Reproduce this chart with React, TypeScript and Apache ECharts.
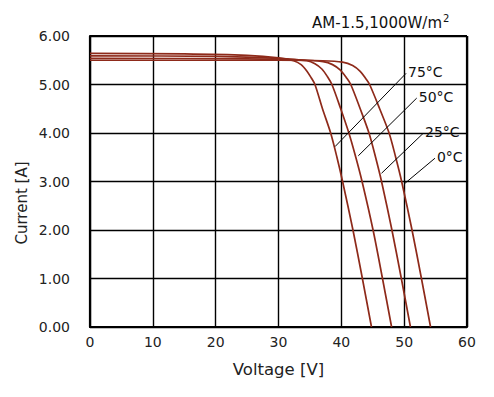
import React, { useEffect, useRef } from "react";
import * as echarts from "echarts";

const xTicks = [0, 10, 20, 30, 40, 50, 60];
const yTicks = [0, 1, 2, 3, 4, 5, 6];

const curve75: [number, number][] = [
  [0, 5.64], [15, 5.63], [25, 5.6], [30, 5.55], [32.4, 5.49], [33.6, 5.41], [34.5, 5.28],
  [35.2, 5.14], [35.8, 5.0], [37.0, 4.5], [38.3, 4.0], [39.3, 3.5], [40.2, 3.0], [41.85, 2.0],
  [43.35, 1.0], [44.8, 0],
];
const curve50: [number, number][] = [
  [0, 5.59], [20, 5.58], [30, 5.54], [34.5, 5.49], [35.8, 5.43], [36.9, 5.32], [37.8, 5.16],
  [38.5, 5.0], [39.9, 4.5], [41.2, 4.0], [42.3, 3.5], [43.3, 3.0], [45.05, 2.0], [46.55, 1.0], [48.0, 0],
];
const curve25: [number, number][] = [
  [0, 5.54], [25, 5.53], [33, 5.51], [37.1, 5.47], [38.6, 5.41], [39.8, 5.3], [40.8, 5.14],
  [41.5, 5.0], [43.0, 4.5], [44.4, 4.0], [45.45, 3.5], [46.4, 3.0], [48.05, 2.0], [49.55, 1.0], [51.0, 0],
];
const curve0: [number, number][] = [
  [0, 5.5], [30, 5.5], [37, 5.49], [40.2, 5.46], [41.8, 5.39], [43.0, 5.27], [43.9, 5.12],
  [44.5, 5.0], [46.1, 4.5], [47.6, 4.0], [48.65, 3.5], [49.6, 3.0], [51.25, 2.0], [52.75, 1.0], [54.2, 0],
];

const labels = ["75°C", "50°C", "25°C", "0°C"];
const leaders: [number, number][][] = [
  [[39.0, 3.72], [50.3, 5.23]],
  [[42.7, 3.53], [52.0, 4.72]],
  [[46.4, 3.17], [53.0, 3.99]],
  [[50.1, 2.96], [54.9, 3.48]],
];

const titleMain = "AM-1.5,1000W/m";
const titleSup = "2";

export default function App() {
  const ref = useRef<HTMLDivElement>(null);
  useEffect(() => {
    if (!ref.current) return;
    const chart = echarts.init(ref.current, null, { renderer: "svg" });
    const curves = [curve75, curve50, curve25, curve0];
    const font = "DejaVu Sans, Verdana, sans-serif";
    chart.setOption({
      animation: false,
      backgroundColor: "#ffffff",
      grid: { left: 90, right: 27, top: 36, bottom: 70, containLabel: false },
      graphic: [
        {
          type: "text",
          x: 442,
          y: 15,
          style: {
            text: titleMain,
            font: "15px " + font,
            fill: "#111",
            textAlign: "right",
            textVerticalAlign: "top",
          },
        },
        {
          type: "text",
          x: 443,
          y: 13,
          style: {
            text: titleSup,
            font: "10px " + font,
            fill: "#111",
            textAlign: "left",
            textVerticalAlign: "top",
          },
        },
        {
          type: "text",
          x: 22,
          y: 203,
          rotation: Math.PI / 2,
          style: {
            text: "Current [A]",
            font: "15px " + font,
            fill: "#222",
            textAlign: "center",
            textVerticalAlign: "middle",
          },
        },
      ],
      xAxis: {
        type: "value",
        min: xTicks[0],
        max: xTicks[xTicks.length - 1],
        interval: 10,
        name: "Voltage [V]",
        nameLocation: "middle",
        nameGap: 34,
        nameTextStyle: { fontSize: 16.5, color: "#222", fontFamily: font },
        axisLine: { show: true, lineStyle: { color: "#000", width: 2.2 } },
        axisTick: { show: false },
        axisLabel: { fontSize: 14, color: "#222", margin: 8, fontFamily: font },
        splitLine: { show: true, lineStyle: { color: "#000", width: 1.4 } },
      },
      yAxis: {
        type: "value",
        min: yTicks[0],
        max: yTicks[yTicks.length - 1],
        interval: 1,
        axisLine: { show: true, lineStyle: { color: "#000", width: 2.2 } },
        axisTick: { show: false },
        axisLabel: {
          fontSize: 14,
          color: "#222",
          margin: 20,
          fontFamily: font,
          formatter: (v: number) => v.toFixed(2),
        },
        splitLine: { show: true, lineStyle: { color: "#000", width: 1.4 } },
      },
      series: [
        ...curves.map((c, i) => ({
          type: "line",
          name: labels[i],
          data: c,
          smooth: 0.3,
          showSymbol: false,
          symbol: "none",
          lineStyle: { color: "#8e2a1a", width: 1.7 },
          z: 3,
        })),
        ...leaders.map((l, i) => ({
          type: "line",
          name: labels[i] + " leader",
          data: l,
          showSymbol: false,
          symbol: "none",
          lineStyle: { color: "#000", width: 1 },
          endLabel: {
            show: true,
            formatter: labels[i],
            fontSize: 14,
            color: "#111",
            fontFamily: font,
            distance: 2,
            offset: [0, -1],
          },
          z: 4,
        })),
        {
          type: "line",
          data: [[60, 0], [60, 6]],
          showSymbol: false,
          symbol: "none",
          lineStyle: { color: "#000", width: 2.2 },
          z: 5,
        },
        {
          type: "line",
          data: [[0, 6], [60, 6]],
          showSymbol: false,
          symbol: "none",
          lineStyle: { color: "#000", width: 2.2 },
          z: 5,
        },
      ],
    });
    return () => chart.dispose();
  }, []);
  return <div ref={ref} style={{ width: 494, height: 397, position: "absolute", left: 0, top: 0 }} />;
}
